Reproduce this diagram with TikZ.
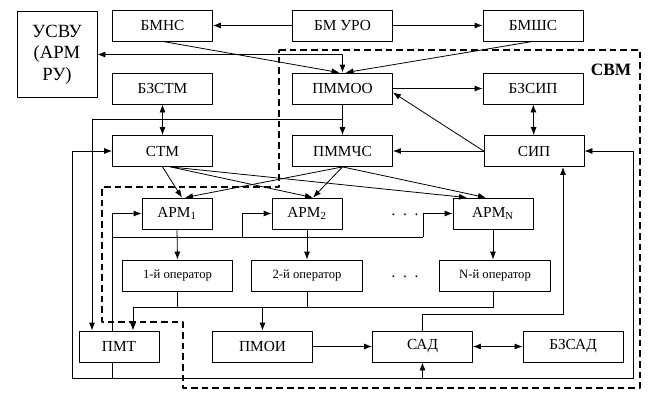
\documentclass[tikz,border=0pt]{standalone}
\usepackage{fontspec}
\setmainfont{Liberation Serif}
\usetikzlibrary{arrows.meta,calc}
\begin{document}
\begin{tikzpicture}[x=0.75pt, y=-0.75pt, line join=round,
    blok/.style={draw, line width=0.6pt, minimum height=23.25pt, minimum width=75pt, inner sep=1pt, font=\fontsize{11.5}{13}\selectfont},
    oper/.style={blok, minimum width=83pt, font=\fontsize{9.5}{11}\selectfont},
    arr/.style={line width=0.6pt, -{Latex[length=6pt,width=4.5pt]}},
    darr/.style={line width=0.6pt, {Latex[length=6pt,width=4.5pt]}-{Latex[length=6pt,width=4.5pt]}},
    lin/.style={line width=0.6pt},
    svm/.style={dash pattern=on 5pt off 3pt, line width=1.2pt}]

  \useasboundingbox (0,0) rectangle (654,401);

  \draw[svm] (279,50) -- (640,50) -- (640,388) -- (183,388) -- (183,322)
    -- (102,322) -- (102,187) -- (279,187) -- cycle;
  \node[font=\bfseries\fontsize{13}{15}\selectfont] (svmlab) at (611,70) {СВМ};

  \node[blok, minimum width=60pt, minimum height=64pt, align=center, font=\fontsize{14}{16}\selectfont] (usvu) at (57,54.5) {УСВУ\\(АРМ\\РУ)};
  \node[blok] (bmns) at (162.5,25.5) {БМНС};
  \node[blok] (bmuro) at (342.5,25.5) {БМ УРО};
  \node[blok] (bmshs) at (533,25.5) {БМШС};
  \node[blok] (bzstm) at (162.5,88.5) {БЗСТМ};
  \node[blok] (pmmoo) at (342.5,88.5) {ПММОО};
  \node[blok] (bzsip) at (533,88.5) {БЗСИП};
  \node[blok] (stm) at (162.5,151) {СТМ};
  \node[blok] (pmmchs) at (342.5,151) {ПММЧС};
  \node[blok] (sip) at (534,151) {СИП};
  \node[blok, minimum width=52.5pt] (arm1) at (177,213.5) {АРМ\textsubscript{1}};
  \node[blok, minimum width=52.5pt] (arm2) at (307,213.5) {АРМ\textsubscript{2}};
  \node[blok, minimum width=60pt] (armn) at (493,213.5) {АРМ\textsubscript{N}};
  \node[oper] (op1) at (177.5,275.5) {1-й оператор};
  \node[oper] (op2) at (307,275.5) {2-й оператор};
  \node[oper] (opn) at (495,275.5) {N-й оператор};
  \node[blok, minimum width=60pt] (pmt) at (119,346.5) {ПМТ};
  \node[blok] (pmoi) at (262.5,346.5) {ПМОИ};
  \node[blok] (sad) at (422.5,346.5) {САД};
  \node[blok] (bzsad) at (573,346.5) {БЗСАД};

  \node[font=\fontsize{11.5}{13}\selectfont] (dots1) at (405,215) {.\enspace.\enspace.};
  \node[font=\fontsize{11.5}{13}\selectfont] (dots2) at (405,277) {.\enspace.\enspace.};

  \draw[arr] (bmuro) -- (bmns);
  \draw[arr] (bmuro) -- (bmshs);
  \draw[arr] (bmns.south) -- ($(pmmoo.north)+(-3,0)$);
  \draw[arr] (bmshs.south) -- ($(pmmoo.north)+(3,0)$);
  \draw[darr] (usvu.east) -| (pmmoo.north);
  \draw[arr] (pmmoo) -- (bzsip);
  \draw[darr] (bzsip) -- (sip);
  \draw[arr] (sip.west) -- ($(pmmoo.east)+(0,4)$);
  \draw[arr] (sip) -- (pmmchs);
  \draw[arr] (pmmoo) -- (pmmchs);
  \coordinate (jPm) at ($(pmmoo.south)!0.5!(pmmchs.north)$);
  \draw[arr] (jPm) -| ($(pmt.north)+(-27,0)$);
  \draw[darr] (bzstm) -- (stm);

  \draw[arr] (stm.south) -- ($(arm1.north)+(5,0)$);
  \draw[arr] ($(stm.south)+(8,0)$) -- ($(arm2.north)+(6,0)$);
  \draw[arr] ($(stm.south)+(8,0)$) -- ($(armn.north)+(-26,0)$);
  \draw[arr] (pmmchs.south) -- ($(arm1.north)+(8,0)$);
  \draw[arr] (pmmchs.south) -- ($(arm2.north)+(6,0)$);
  \draw[arr] (pmmchs.south) -- ($(armn.north)+(-7,0)$);

  \coordinate (t1) at ($(pmt.north)+(-7,0)$);
  \coordinate (t2) at (242,237);
  \coordinate (t3) at (423,237);
  \draw[arr] (t1) |- (arm1.west);
  \draw[lin] (t1 |- t3) -- (t3);
  \draw[arr] (t2) |- (arm2.west);
  \draw[arr] (t3) |- (armn.west);

  \draw[arr] (arm1.south) -- (op1.north);
  \draw[arr] (arm2.south) -- (op2.north);
  \draw[arr] (armn.south) -- (armn.south |- opn.north);

  \coordinate (bus) at ($(pmt.north)+(14,-23)$);
  \draw[arr] (armn.south |- opn.south) |- (bus) -- (bus |- pmt.north);
  \draw[lin] (op1.south) -- (op1.south |- bus);
  \draw[lin] (op2.south) -- (op2.south |- bus);
  \draw[arr] (pmoi.north |- bus) -- (pmoi.north);

  \draw[arr] (pmoi) -- (sad);
  \draw[darr] (sad) -- (bzsad);
  \draw[arr] (sad.north) -- ++(0,-16) -| ($(sip.south)+(29,0)$);

  \coordinate (lb) at (72,378);
  \coordinate (rb) at (633,378);
  \draw[arr] ($(pmt.south)+(-7,0)$) |- (lb) |- (stm.west);
  \draw[arr] ($(pmt.south)+(-7,0)$) |- (rb) |- (sip.east);
  \draw[arr] (sad.south |- rb) -- (sad.south);
\end{tikzpicture}
\end{document}
